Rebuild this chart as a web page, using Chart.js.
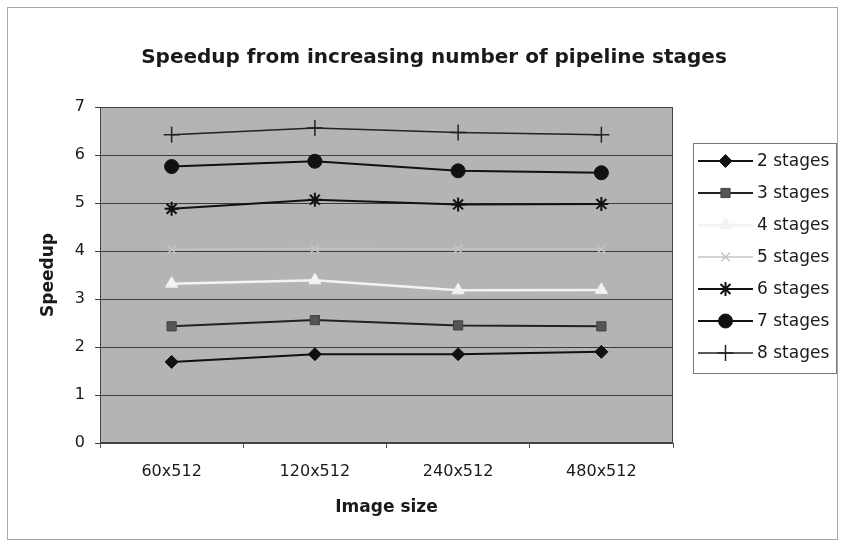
<!DOCTYPE html>
<html>
<head>
<meta charset="utf-8">
<script src="https://cdn.jsdelivr.net/npm/chart.js@4"></script>
<style>
  html, body { margin: 0; padding: 0; background: #fff; }
  #wrap { width: 842px; height: 549px; position: relative; }
</style>
</head>
<body>
<div id="wrap"><canvas id="chart"></canvas></div>
<script>
// Kategorier og måleværdier
const imageSizes = ['60x512', '120x512', '240x512', '480x512'];
const stages2 = [1.69, 1.85, 1.85, 1.90];
const stages3 = [2.43, 2.56, 2.45, 2.43];
const stages4 = [3.32, 3.39, 3.18, 3.19];
const stages5 = [4.03, 4.05, 4.04, 4.04];
const stages6 = [4.88, 5.07, 4.97, 4.98];
const stages7 = [5.76, 5.87, 5.67, 5.63];
const stages8 = [6.42, 6.56, 6.47, 6.42];
const yTicks = [0, 1, 2, 3, 4, 5, 6, 7];

const chartTitle = 'Speedup from increasing number of pipeline stages';
const font = 'DejaVu Sans';
const ink = '#1a1a1a';

function series(label, data, color, style, extra) {
    return Object.assign({
        label: label,
        data: data,
        borderColor: color,
        backgroundColor: color,
        pointBackgroundColor: color,
        pointBorderColor: color,
        pointStyle: style,
        borderWidth: 2,
        pointRadius: 6,
        pointBorderWidth: 1,
        tension: 0,
        fill: false
    }, extra || {});
}

const datasets = [
    series('2 stages', stages2, '#111', 'rectRot', { pointRadius: 6.5 }),
    series('3 stages', stages3, '#222', 'rect', { pointBackgroundColor: '#555', pointBorderColor: '#444', pointRadius: 6.5 }),
    series('4 stages', stages4, '#f3f3f3', 'triangle', { pointRadius: 7, borderWidth: 2.5 }),
    series('5 stages', stages5, '#c4c4c4', 'crossRot', { pointRadius: 6, pointBorderWidth: 1.5, borderWidth: 1.5 }),
    series('6 stages', stages6, '#111', 'star', { pointRadius: 7, pointBorderWidth: 2 }),
    series('7 stages', stages7, '#111', 'circle', { pointRadius: 7 }),
    series('8 stages', stages8, '#222', 'cross', { pointRadius: 8, pointBorderWidth: 1.5, borderWidth: 1.5 })
];

// Hvid baggrund, ramme, grå plotflade og titel
const framePlugin = {
    id: 'frame',
    beforeDraw(chart) {
        const c = chart.ctx, a = chart.chartArea;
        c.save();
        c.fillStyle = '#fff';
        c.fillRect(0, 0, chart.width, chart.height);
        c.strokeStyle = '#a8a8a8';
        c.lineWidth = 1;
        c.strokeRect(7.5, 7.5, 830, 532);
        c.fillStyle = '#b4b4b4';
        c.fillRect(a.left, a.top, a.right - a.left, a.bottom - a.top);
        c.fillStyle = ink;
        c.font = 'bold 20px "' + font + '"';
        c.textAlign = 'center';
        c.textBaseline = 'middle';
        c.fillText(chartTitle, 434, 58);
        c.restore();
    },
    afterDatasetsDraw(chart) {
        const c = chart.ctx, a = chart.chartArea;
        c.save();
        c.strokeStyle = '#444';
        c.lineWidth = 1;
        c.strokeRect(a.left + 0.5, a.top + 0.5, a.right - a.left - 1, a.bottom - a.top - 1);
        c.restore();
    }
};

// Forklaringsboks med linje + markør som i originalen
const legendPlugin = {
    id: 'boxLegend',
    afterDraw(chart) {
        const c = chart.ctx;
        c.save();
        c.fillStyle = '#fff';
        c.fillRect(693, 143, 143, 230);
        c.strokeStyle = '#777';
        c.lineWidth = 1;
        c.strokeRect(693.5, 143.5, 143, 230);
        c.font = '17px "' + font + '"';
        c.textAlign = 'left';
        c.textBaseline = 'middle';
        chart.data.datasets.forEach((ds, i) => {
            const y = 161 + i * 32;
            c.strokeStyle = ds.borderColor;
            c.lineWidth = ds.borderWidth;
            c.beginPath();
            c.moveTo(698, y);
            c.lineTo(753, y);
            c.stroke();
            c.fillStyle = ds.pointBackgroundColor;
            c.strokeStyle = ds.pointBorderColor;
            c.lineWidth = ds.pointBorderWidth;
            Chart.helpers.drawPoint(c, {
                pointStyle: ds.pointStyle,
                radius: ds.pointRadius,
                rotation: 0,
                borderWidth: ds.pointBorderWidth
            }, 725.5, y);
            c.fillStyle = ink;
            c.fillText(ds.label, 757, y + 1);
        });
        c.restore();
    }
};

const ctx = document.querySelector('#chart').getContext('2d');
const chart = new Chart(ctx, {
    type: 'line',
    data: { labels: imageSizes, datasets: datasets },
    plugins: [framePlugin, legendPlugin],
    options: {
        responsive: true,
        maintainAspectRatio: false,
        animation: false,
        layout: { padding: { left: 8, right: 169, top: 107, bottom: 0 } },
        plugins: {
            legend: { display: false },
            title: { display: false },
            tooltip: { enabled: false }
        },
        scales: {
            x: {
                offset: true,
                afterFit: s => { s.height = 106; },
                grid: { offset: true, drawOnChartArea: false, color: '#555', tickLength: 5 },
                border: { color: '#444' },
                ticks: { color: ink, padding: 14, font: { family: font, size: 16 } },
                title: { display: true, text: 'Image size', color: ink, padding: { top: 0, bottom: 31 }, font: { family: font, size: 17, weight: 'bold' } }
            },
            y: {
                min: 0,
                max: 7,
                afterFit: s => { s.width = 92; },
                afterBuildTicks: s => { s.ticks = yTicks.map(v => ({ value: v })); },
                grid: { color: '#3c3c3c', tickLength: 5, lineWidth: 1 },
                border: { color: '#444' },
                ticks: { color: ink, padding: 10, font: { family: font, size: 16 } },
                title: { display: true, text: 'Speedup', color: ink, padding: { top: 30, bottom: 0 }, font: { family: font, size: 17, weight: 'bold' } }
            }
        }
    }
});
</script>
</body>
</html>
